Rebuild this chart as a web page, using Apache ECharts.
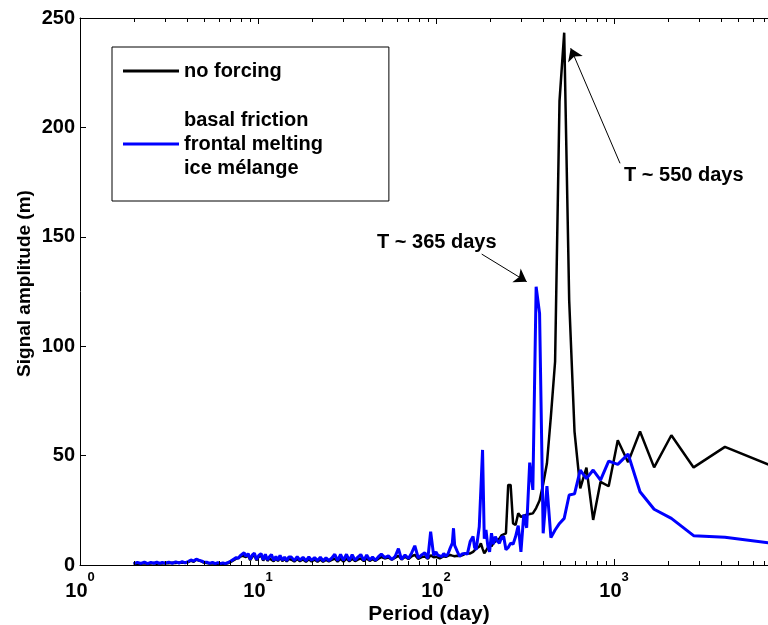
<!DOCTYPE html>
<html>
<head>
<meta charset="utf-8">
<title>Signal amplitude vs period</title>
<script src="https://cdn.jsdelivr.net/npm/echarts@6/dist/echarts.min.js"></script>
<style>
  html, body { margin: 0; padding: 0; background: #fff; }
  #chart { width: 768px; height: 625px; }
</style>
</head>
<body>
<div id="chart"></div>
<script>
// Period (day) of each spectral line, shared by both runs
const periods = [
  2.0, 2.1, 2.2, 2.3, 2.4, 2.5, 2.6, 2.7, 2.8, 2.9, 3.0, 3.15, 3.3, 3.45, 3.6, 3.75, 3.9,
  4.05, 4.2, 4.35, 4.5, 4.65, 4.8, 4.95,
  5.15, 5.35, 5.55, 5.75, 5.95, 6.15, 6.35, 6.55, 6.75, 6.95,
  7.15, 7.35, 7.55, 7.75, 7.95, 8.15, 8.35,
  8.55, 8.8, 9.05, 9.3, 9.55, 9.8, 10.1, 10.4, 10.7, 11.0, 11.3, 11.6, 11.9, 12.25, 12.6, 12.95, 13.3, 13.7, 14.1, 14.5, 14.9,
  15.4, 16.0, 16.6, 17.2, 17.9, 18.6, 19.3, 20.0, 20.8, 21.6, 22.4, 23.2, 24.1, 25.0, 26.0, 27.0,
  28.0, 29.1, 30.2, 31.4, 32.6, 33.8, 35.1, 36.4, 37.8, 39.3, 40.8, 42.4, 44.0, 45.7, 47.5, 49.3,
  51.5, 54, 56.5, 59, 61.5, 64, 67, 70, 73, 76, 79.5, 83, 86.5, 90, 93.3, 97,
  100, 102.4, 105, 107.7, 110.5, 113.5, 116.7, 120, 123.5, 125.4, 127.3, 131.3, 135.5, 140, 144.8, 150,
  155.6, 161.5, 164.7, 168, 171.4, 175, 178.7,
  182.6, 186.7, 190.9, 195.3, 200, 204.9, 210, 215.4, 221.1, 227, 233.3, 240, 247.1, 254.5, 262.5, 271,
  280, 289.7, 300, 311.1, 323.1, 336, 350, 365.2, 381.8, 400, 420, 442.1, 466.7, 494.1, 525, 560,
  600, 646.2, 700, 763.6, 840, 933.3, 1050, 1200, 1400, 1680, 2100, 2800, 4200, 8400
];

// Signal amplitude (m), no forcing
const noForcing = [
  0.5, 0.7, 0.6, 0.8, 0.6, 0.7, 0.9, 0.6, 0.8, 0.7, 0.9, 0.8, 1.0, 0.9, 1.1, 1.0, 1.2,
  1.3, 2.0, 1.5, 2.5, 2.0, 1.7, 1.1,
  0.9, 0.7, 0.8, 0.5, 0.7, 0.5, 0.6, 0.5, 0.8, 1.2,
  1.8, 2.3, 3.0, 3.2, 3.6, 4.3, 4.8,
  3.6, 4.4, 2.2, 3.8, 4.6, 2.1, 3.7, 4.3, 2.0, 4.0, 1.9, 3.0, 3.8, 1.7, 3.0, 1.8, 3.6, 1.8, 2.9, 1.6, 2.8,
  2.4, 1.6, 2.7, 1.7, 2.5, 1.5, 2.6, 1.6, 2.4, 1.5, 2.5, 1.5, 2.3, 1.6, 2.3, 2.9,
  1.6, 2.8, 1.6, 2.9, 1.7, 2.8, 1.8, 2.5, 3.0, 1.8, 3.0, 1.9, 2.7, 1.9, 2.9, 3.6,
  3.0, 3.4, 2.4, 3.3, 4.2, 2.5, 3.8, 2.7, 4.0, 4.6, 2.8, 3.6, 3.9, 2.8, 4.5, 3.5,
  3.8, 3.2, 3.0, 3.5, 4.0, 3.7, 4.2, 4.6, 4.3, 4.5, 4.0, 4.2, 4.1, 4.4, 5.0, 5.3,
  5.3, 6.0, 6.5, 7.5, 8.0, 8.4, 9.9,
  7.5, 5.3, 6.5, 8, 9.9, 8.5, 10, 9.5, 11.4, 12, 13.5, 14, 14.5, 36.6, 36.6, 19,
  18.3, 23.6, 22, 22.5, 23, 23.3, 23.6, 26, 29.5, 37, 46.5, 68, 93, 212, 243.3, 121,
  61, 35, 44.5, 20.6, 38, 36, 57, 47, 61, 44.6, 59.3, 44.6, 54, 44
];

// Signal amplitude (m), basal friction + frontal melting + ice melange
const forced = [
  0.6, 1.2, 0.7, 1.3, 0.6, 1.2, 0.8, 1.3, 0.7, 1.2, 0.8, 1.3, 0.8, 1.4, 0.9, 1.5, 1.0,
  1.6, 2.3, 1.8, 2.7, 2.2, 1.9, 1.4,
  1.3, 0.7, 1.2, 0.6, 1.1, 0.6, 1.0, 0.6, 1.1, 1.5,
  2.2, 2.8, 3.4, 3.0, 4.3, 5.0, 5.6,
  4.0, 5.2, 2.6, 4.6, 5.4, 2.5, 4.4, 5.2, 2.4, 4.9, 2.3, 3.8, 4.8, 2.1, 3.9, 2.2, 4.4, 2.2, 3.6, 2.0, 3.6,
  3.6, 2.0, 3.8, 2.2, 3.5, 1.9, 3.7, 2.1, 3.4, 2.0, 3.6, 1.9, 3.3, 2.0, 3.2, 4.9,
  2.0, 4.8, 2.1, 4.9, 2.0, 4.7, 2.2, 3.6, 4.8, 2.1, 4.6, 2.3, 3.6, 2.2, 3.8, 5.0,
  3.4, 4.2, 2.5, 4.0, 7.5, 2.6, 4.6, 3.0, 5.5, 8.8, 3.2, 4.6, 5.6, 3.0, 15.2, 4.4,
  6, 4.5, 4.6, 3.8, 5.3, 4.0, 5.0, 7.6, 10, 16.8, 9, 6.5, 4, 5, 5.3, 5,
  10.7, 13, 8, 7, 12, 17.5, 18,
  52.6, 12, 16, 9, 6, 14.5, 9.5, 13, 11, 10, 12.5, 13, 7, 8, 10, 9.5,
  13, 18, 6, 23, 17, 46.8, 34.3, 127.2, 115, 14.5, 36, 12.5, 16, 19, 21.3, 32,
  32.5, 43.4, 39.5, 43.4, 38.8, 47.5, 46, 50.7, 33.5, 25.5, 21.3, 13.4, 12.7, 9.6
];

const seriesNames = ['no forcing', 'basal friction\nfrontal melting\nice mélange'];
const minorTicks = [2, 3, 4, 5, 6, 7, 8, 9, 20, 30, 40, 50, 60, 70, 80, 90,
  200, 300, 400, 500, 600, 700, 800, 900, 2000, 3000, 4000, 5000, 6000, 7000];

const FONT = '"Liberation Sans", Arial, sans-serif';

function initChart() {
  const chart = echarts.init(document.getElementById('chart'), null, { renderer: 'canvas' });
  const toPairs = vals => periods.map((p, i) => [p, vals[i]]);

  const logLabel = v => {
    const e = Math.log10(v);
    if (Math.abs(e - Math.round(e)) > 1e-6) return '';
    return '{b|10}{s|' + Math.round(e) + '}';
  };

  const option = {
    animation: false,
    backgroundColor: '#fff',
    textStyle: { fontFamily: FONT },
    grid: { left: 80, top: 18, right: 0, bottom: 60, containLabel: false, outerBoundsMode: 'none' },
    legend: {
      data: seriesNames,
      orient: 'vertical',
      left: 112,
      top: 47,
      icon: 'rect',
      itemWidth: 56,
      itemHeight: 3,
      itemGap: 25,
      padding: [12, 66, 21, 11],
      borderColor: '#000',
      borderWidth: 1,
      backgroundColor: '#fff',
      selectedMode: false,
      textStyle: { fontFamily: FONT, fontSize: 20, fontWeight: 'bold', color: '#000', lineHeight: 24 }
    },
    xAxis: [
      {
        type: 'log',
        logBase: 10,
        min: 1,
        max: 7330,
        name: 'Period (day)',
        nameLocation: 'middle',
        nameGap: 39,
        nameMoveOverlap: false,
        nameTextStyle: { fontFamily: FONT, fontSize: 21, fontWeight: 'bold', color: '#000', padding: [0, 0, 0, 10] },
        axisLine: { lineStyle: { color: '#000', width: 1 } },
        axisTick: { inside: true, length: 6, lineStyle: { color: '#000' } },
        splitLine: { show: false },
        axisLabel: {
          margin: 6,
          showMaxLabel: false,
          formatter: logLabel,
          rich: {
            b: { fontFamily: FONT, fontSize: 20, fontWeight: 'bold', color: '#000', lineHeight: 40 },
            s: { fontFamily: FONT, fontSize: 13, fontWeight: 'bold', color: '#000', lineHeight: 14, verticalAlign: 'top' }
          }
        }
      },
      {
        type: 'log',
        logBase: 10,
        min: 1,
        max: 7330,
        position: 'top',
        axisLine: { lineStyle: { color: '#000', width: 1 } },
        axisTick: { inside: true, length: 6, lineStyle: { color: '#000' } },
        axisLabel: { show: false },
        splitLine: { show: false }
      }
    ],
    yAxis: {
      type: 'value',
      min: 0,
      max: 250,
      interval: 50,
      name: 'Signal amplitude (m)',
      nameLocation: 'middle',
      nameGap: 46,
      nameMoveOverlap: false,
      nameTextStyle: { fontFamily: FONT, fontSize: 19, fontWeight: 'bold', color: '#000', padding: [0, 0, 0, 16] },
      axisLine: { show: true, lineStyle: { color: '#000', width: 1 } },
      axisTick: { show: true, inside: true, length: 6, lineStyle: { color: '#000' } },
      splitLine: { show: false },
      axisLabel: { margin: 5, fontFamily: FONT, fontSize: 20, fontWeight: 'bold', color: '#000' }
    },
    graphic: [
      { type: 'text', left: 377, top: 232, style: { text: 'T ~ 365 days', font: 'bold 20px ' + FONT, fill: '#000' } },
      { type: 'text', left: 624, top: 165, style: { text: 'T ~ 550 days', font: 'bold 20px ' + FONT, fill: '#000' } }
    ],
    series: [
      {
        name: seriesNames[0],
        type: 'line',
        data: toPairs(noForcing),
        symbol: 'none',
        lineStyle: { color: '#000', width: 2.5 },
        itemStyle: { color: '#000' },
        z: 3,
        markLine: {
          silent: true,
          symbol: ['none', 'arrow'],
          symbolSize: 12,
          label: { show: false },
          lineStyle: { color: '#000', width: 1, type: 'solid' },
          data: [
            [{ coord: [180.6, 142.1] }, { coord: [323.3, 129.5] }],
            [{ coord: [1081, 183.6] }, { coord: [571, 236.2] }]
          ]
        }
      },
      {
        name: seriesNames[1],
        type: 'line',
        data: toPairs(forced),
        symbol: 'none',
        lineStyle: { color: '#0000ff', width: 3 },
        itemStyle: { color: '#0000ff' },
        z: 4
      },
      {
        // minor ticks of the log axis, bottom and top frame
        type: 'custom',
        silent: true,
        clip: false,
        z: 5,
        data: minorTicks.map(v => [v, 0]),
        renderItem: (params, api) => {
          const b = api.coord([api.value(0), 0]);
          const t = api.coord([api.value(0), 250]);
          const x = Math.round(b[0]) + 0.5;
          return {
            type: 'group',
            children: [
              { type: 'line', shape: { x1: x, y1: b[1], x2: x, y2: b[1] - 4 }, style: { stroke: '#000', lineWidth: 1 } },
              { type: 'line', shape: { x1: x, y1: t[1], x2: x, y2: t[1] + 4 }, style: { stroke: '#000', lineWidth: 1 } }
            ]
          };
        }
      }
    ]
  };
  chart.setOption(option);
}

document.addEventListener('DOMContentLoaded', initChart);
</script>
</body>
</html>
